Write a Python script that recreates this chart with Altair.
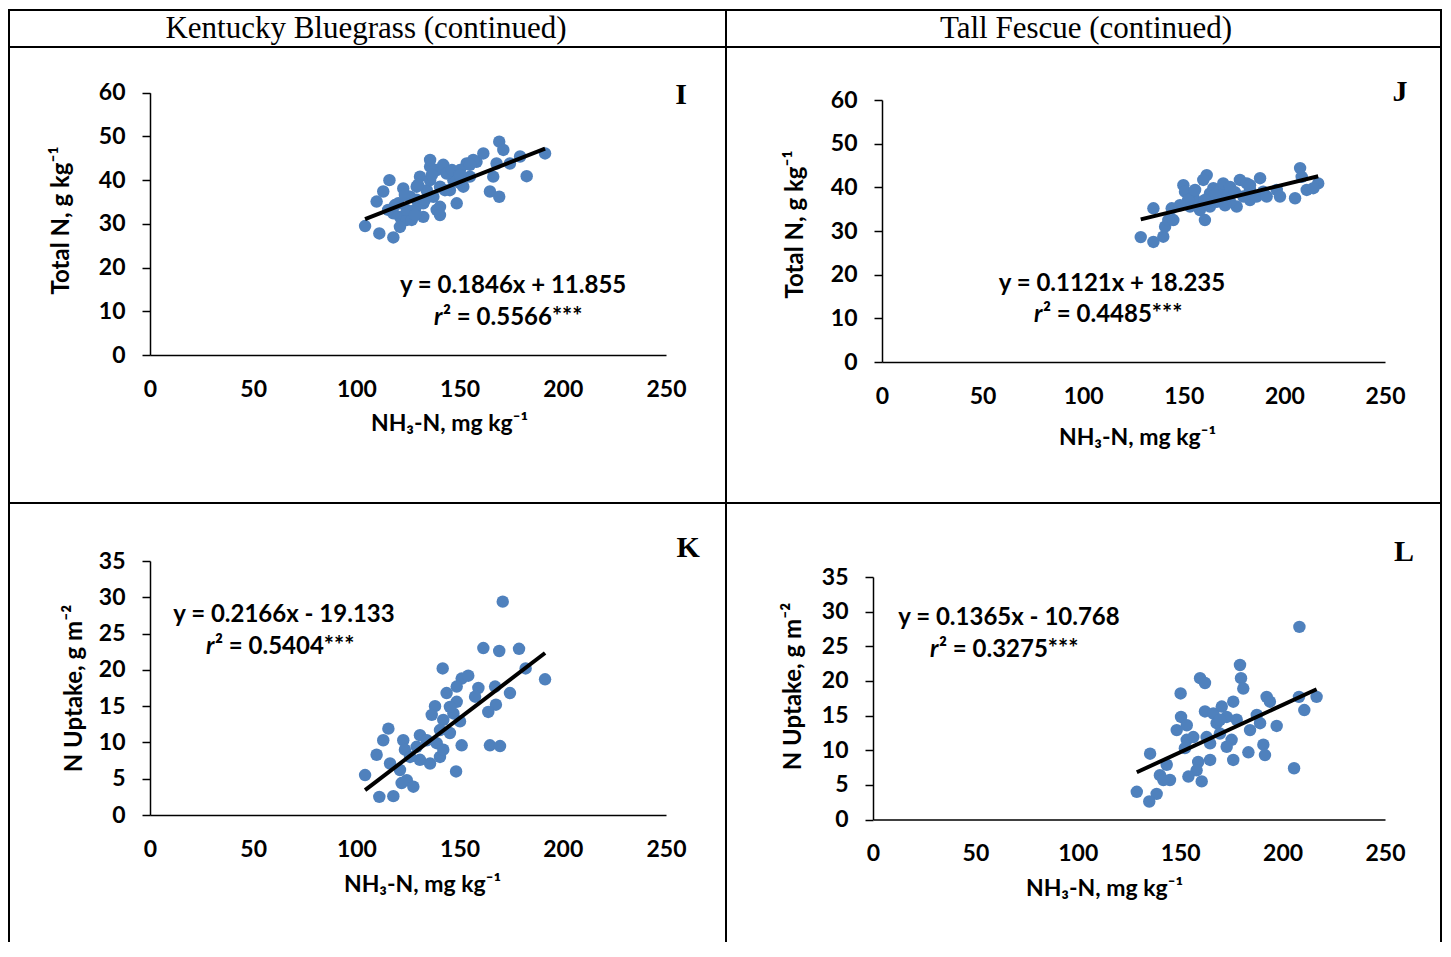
import altair as alt
import pandas as pd

W, H = 1435, 934
SANS = "Lato"
SERIF = "Liberation Serif"
BLUE = "#4F81BD"

# ---------------- data ----------------
# Panel I: Kentucky Bluegrass, Total N vs NH3-N
kb_tn_x = [104.2, 111.1, 117.9, 109.8, 113.0, 116.0, 122.7, 121.1, 124.4, 128.4,
           130.8, 134.1, 138.9, 142.1, 140.5, 148.6, 147.0, 151.8, 153.4, 158.2,
           161.5, 166.3, 164.7, 169.2, 169.2, 171.2, 174.4, 179.3, 182.5, 191.4,
           167.9, 120.3, 124.4, 126.8, 121.1, 129.2, 132.4, 135.7, 137.3, 140.5,
           143.7, 145.3, 150.2, 155.0, 156.6, 135.7, 132.4, 129.2, 138.9, 126.0,
           117.9, 115.4, 150.2, 123.5, 129.8, 133.2, 136.6, 142.9, 146.3, 150.2,
           155.0, 140.5, 128.4, 118.7, 135.7]
kb_tn_y = [29.5, 27.8, 26.9, 35.1, 37.4, 40.0, 38.1, 31.6, 30.9, 33.2,
           40.8, 37.7, 42.3, 43.5, 33.9, 34.7, 40.0, 38.5, 43.8, 44.2,
           46.1, 40.8, 37.4, 36.2, 48.8, 46.9, 43.8, 45.4, 40.9, 46.1,
           43.8, 34.7, 33.2, 30.9, 29.3, 35.5, 34.7, 40.0, 36.2, 38.5,
           41.5, 37.7, 42.3, 40.8, 44.6, 43.1, 31.6, 38.5, 33.2, 36.2,
           32.4, 33.2, 39.3, 36.6, 38.9, 35.5, 41.2, 37.7, 42.3, 41.2,
           43.5, 32.0, 32.0, 34.3, 44.6]

# Panel J: Tall Fescue, Total N vs NH3-N
tf_tn_x = [128.6, 134.9, 139.8, 140.7, 142.3, 144.8, 134.9, 144.0, 149.8, 150.6,
           154.7, 153.1, 161.4, 159.7, 160.5, 158.0, 164.7, 168.0, 171.3, 166.4,
           163.0, 176.3, 177.9, 181.3, 182.9, 187.9, 186.2, 189.5, 196.2, 197.8,
           205.3, 207.8, 208.6, 211.1, 216.8, 173.0, 169.6, 179.6, 163.0, 156.4,
           152.2, 173.0, 191.2, 182.9, 214.4, 155.6, 165.5, 175.4, 182.9, 160.5,
           170.5, 148.1]
tf_tn_y = [28.6, 27.5, 28.7, 31.0, 32.5, 32.5, 35.2, 35.2, 40.5, 39.0,
           37.9, 35.6, 42.8, 41.7, 32.5, 34.8, 39.8, 39.4, 37.9, 36.7,
           35.6, 35.6, 41.7, 40.9, 37.1, 42.1, 37.9, 39.0, 39.4, 37.9,
           37.5, 44.4, 42.4, 39.4, 40.9, 36.7, 40.9, 37.9, 38.6, 36.7,
           37.1, 40.1, 37.9, 39.4, 39.8, 39.4, 38.2, 38.9, 40.5, 37.1,
           35.9, 35.9]

# Panel K: Kentucky Bluegrass, N uptake vs NH3-N
kb_up_x = [170.9, 161.5, 169.2, 178.8, 182.0, 191.4, 141.8, 151.0, 154.2, 148.6,
           143.7, 167.2, 159.1, 157.5, 174.4, 167.6, 163.9, 138.1, 136.5, 148.6,
           147.0, 142.1, 150.2, 140.5, 145.3, 115.5, 113.0, 109.8, 104.2, 111.1,
           117.9, 122.7, 123.5, 116.3, 121.1, 130.8, 129.2, 134.1, 138.9, 135.7,
           140.5, 142.1, 151.0, 148.3, 164.7, 169.6, 124.4, 127.6, 121.9, 130.8,
           126.0, 145.3]
kb_up_y = [29.4, 23.0, 22.6, 22.9, 20.2, 18.7, 20.2, 18.8, 19.2, 17.7,
           16.8, 17.7, 17.5, 16.3, 16.8, 15.2, 14.2, 15.0, 13.8, 15.6,
           14.0, 13.1, 12.9, 11.7, 11.3, 11.9, 10.3, 8.3, 5.5, 2.5,
           2.6, 10.3, 9.0, 7.1, 6.2, 11.0, 9.4, 10.3, 9.9, 7.1,
           8.0, 9.0, 9.6, 6.0, 9.6, 9.5, 4.8, 3.9, 4.4, 7.6,
           8.0, 14.9]

# Panel L: Tall Fescue, N uptake vs NH3-N
tf_up_x = [208.2, 179.2, 179.7, 180.8, 159.7, 162.1, 150.2, 192.2, 193.8, 208.0,
           216.6, 210.6, 150.4, 153.2, 148.3, 162.1, 166.2, 170.3, 175.9, 172.7,
           167.8, 177.6, 187.4, 189.0, 184.1, 197.1, 153.2, 156.4, 162.9, 169.4,
           164.6, 175.1, 172.7, 152.3, 190.6, 191.4, 183.3, 175.9, 164.6, 158.8,
           158.0, 135.3, 143.4, 140.1, 145.0, 141.8, 154.0, 160.5, 128.8, 138.5,
           134.9, 205.6, 169.4]
tf_up_y = [27.8, 22.3, 20.4, 18.9, 20.4, 19.7, 18.2, 17.7, 17.0, 17.7,
           17.7, 15.8, 14.8, 13.6, 12.9, 15.6, 15.3, 16.3, 17.0, 14.8,
           13.9, 14.4, 15.1, 13.9, 12.9, 13.5, 11.5, 11.9, 11.9, 12.4,
           11.0, 11.5, 10.5, 10.3, 10.8, 9.3, 9.7, 8.6, 8.6, 8.3,
           7.1, 9.5, 7.9, 6.4, 5.7, 5.7, 6.2, 5.5, 4.0, 3.7,
           2.6, 7.4, 14.4]

x_ticks = [0, 50, 100, 150, 200, 250]
tn_ticks = [0, 10, 20, 30, 40, 50, 60]
up_ticks = [0, 5, 10, 15, 20, 25, 30, 35]

headers = ["Kentucky Bluegrass (continued)", "Tall Fescue (continued)"]
x_title = "NH\u2083-N, mg kg\u207b\u00b9"
tn_title = "Total N, g kg\u207b\u00b9"
up_title = "N Uptake, g m\u207b\u00b2"

panels = [
    dict(letter="I", xs=kb_tn_x, ys=kb_tn_y, slope=0.1846, icpt=11.855,
         eq="y = 0.1846x + 11.855", r2="\u00b2 = 0.5566***",
         ymax=60, yticks=tn_ticks, ytitle=tn_title,
         eqx=175.9, eqy=15.8, r2x=137.6, r2y=8.5, lx=257.3, ly=59.5,
         x0=142, x1=658, y0=347, y1=84.7, xtx=441, xty=68, ytx=-89, yty=212),
    dict(letter="J", xs=tf_tn_x, ys=tf_tn_y, slope=0.1121, icpt=18.235,
         eq="y = 0.1121x + 18.235", r2="\u00b2 = 0.4485***",
         ymax=60, yticks=tn_ticks, ytitle=tn_title,
         eqx=114.3, eqy=17.9, r2x=75.5, r2y=10.8, lx=257.5, ly=61.8,
         x0=874, x1=1377, y0=354, y1=92, xtx=1129, xty=75, ytx=-87, yty=216),
    dict(letter="K", xs=kb_up_x, ys=kb_up_y, slope=0.2166, icpt=-19.133,
         eq="y = 0.2166x - 19.133", r2="\u00b2 = 0.5404***",
         ymax=35, yticks=up_ticks, ytitle=up_title,
         eqx=64.9, eqy=27.6, r2x=27.1, r2y=23.1, lx=260.7, ly=36.8,
         x0=142, x1=658, y0=807, y1=553, xtx=414, xty=69, ytx=-76, yty=680),
    dict(letter="L", xs=tf_up_x, ys=tf_up_y, slope=0.1365, icpt=-10.768,
         eq="y = 0.1365x - 10.768", r2="\u00b2 = 0.3275***",
         ymax=35, yticks=up_ticks, ytitle=up_title,
         eqx=66.4, eqy=29.1, r2x=27.8, r2y=24.5, lx=259.3, ly=38.6,
         x0=865, x1=1377, y0=811.5, y1=569, xtx=1096, xty=68.5, ytx=-80, yty=678),
]

LABEL_SIZE = 23
TITLE_SIZE = 23
EQ_SIZE = 24


def make_panel(p):
    assert len(p["xs"]) == len(p["ys"])

    def xsc():
        return alt.Scale(domain=[0, 250], range=[p["x0"], p["x1"]], nice=False, zero=False)

    def ysc():
        return alt.Scale(domain=[0, p["ymax"]], range=[p["y0"], p["y1"]], nice=False, zero=False)

    def enc(ch):
        return ch.encode(x=alt.X("x:Q", scale=xsc(), axis=None),
                         y=alt.Y("y:Q", scale=ysc(), axis=None))

    xax = alt.Axis(orient="bottom", offset=p["y0"] - H, values=x_ticks, ticks=False,
                   tickSize=0, grid=False, labelPadding=34, labelBaseline="middle",
                   labelFont=SANS, labelFontSize=LABEL_SIZE, labelFontWeight="bold",
                   labelColor="black", domainColor="black", domainWidth=1.5,
                   labelFlush=False, labelOverlap=False,
                   title=x_title, titleX=p["xtx"], titleY=p["xty"], titleAlign="center",
                   titleBaseline="middle", titleFont=SANS, titleFontSize=TITLE_SIZE,
                   titleFontWeight="bold", titleColor="black")
    yax = alt.Axis(orient="left", offset=-p["x0"], values=p["yticks"], ticks=True,
                   tickSize=8, tickColor="black", tickWidth=1.5, grid=False,
                   labelPadding=17, labelBaseline="middle", labelFont=SANS,
                   labelFontSize=LABEL_SIZE, labelFontWeight="bold", labelColor="black",
                   domainColor="black", domainWidth=1.5, labelFlush=False,
                   labelOverlap=False,
                   title=p["ytitle"], titleX=p["ytx"], titleY=p["yty"], titleAngle=270,
                   titleAlign="center", titleBaseline="middle", titleFont=SANS,
                   titleFontSize=TITLE_SIZE + 1, titleFontWeight="bold", titleColor="black")
    pts_df = pd.DataFrame({"x": p["xs"], "y": p["ys"]})
    xmin, xmax = min(p["xs"]), max(p["xs"])
    line_df = pd.DataFrame({"x": [xmin, xmax],
                            "y": [p["slope"] * xmin + p["icpt"], p["slope"] * xmax + p["icpt"]]})
    eq_df = pd.DataFrame({"x": [p["eqx"]], "y": [p["eqy"]], "t": [p["eq"]]})
    r_df = pd.DataFrame({"x": [p["r2x"]], "y": [p["r2y"]], "t": ["r"]})
    r2_df = pd.DataFrame({"x": [p["r2x"]], "y": [p["r2y"]], "t": [p["r2"]]})
    let_df = pd.DataFrame({"x": [p["lx"]], "y": [p["ly"]], "t": [p["letter"]]})

    pts = alt.Chart(pts_df).mark_circle(size=155, color=BLUE, opacity=1).encode(
        x=alt.X("x:Q", scale=xsc(), axis=xax), y=alt.Y("y:Q", scale=ysc(), axis=yax))
    line = enc(alt.Chart(line_df).mark_line(color="black", strokeWidth=4))
    eq = enc(alt.Chart(eq_df).mark_text(font=SANS, fontSize=EQ_SIZE, fontWeight="bold",
                                        color="black", align="center",
                                        baseline="middle")).encode(text="t:N")
    r = enc(alt.Chart(r_df).mark_text(font=SANS, fontSize=EQ_SIZE, fontWeight="bold",
                                      fontStyle="italic", color="black", align="left",
                                      baseline="middle")).encode(text="t:N")
    r2 = enc(alt.Chart(r2_df).mark_text(font=SANS, fontSize=EQ_SIZE, fontWeight="bold",
                                        color="black", align="left", baseline="middle",
                                        dx=9)).encode(text="t:N")
    let = enc(alt.Chart(let_df).mark_text(font=SERIF, fontSize=30, fontWeight="bold",
                                          color="black", align="center",
                                          baseline="middle")).encode(text="t:N")
    return [pts, line, eq, r, r2, let]


one = pd.DataFrame({"a": [0]})


def rule(x, x2, y, y2):
    return alt.Chart(one).mark_rule(color="black", strokeWidth=2).encode(
        x=alt.value(x), x2=alt.value(x2), y=alt.value(y), y2=alt.value(y2))


def header(x, text):
    return alt.Chart(one).mark_text(font=SERIF, fontSize=31, color="black",
                                    align="center", baseline="middle").encode(
        x=alt.value(x), y=alt.value(21), text=alt.value(text))


decor = [
    rule(0, 1434, 2, 2),
    rule(0, 1434, 39, 39),
    rule(0, 1434, 495, 495),
    rule(1, 1, 2, H),
    rule(718, 718, 2, H),
    rule(1433, 1433, 2, H),
    header(358, headers[0]),
    header(1078, headers[1]),
]

layers = list(decor)
for p in panels:
    layers.extend(make_panel(p))

chart = alt.layer(*layers).resolve_scale(
    x="independent", y="independent"
).resolve_axis(
    x="independent", y="independent"
).properties(
    width=W, height=H, padding=0, autosize=alt.AutoSizeParams(type="none")
).configure_view(stroke=None)

chart.save("out.html", embed_options={"renderer": "svg", "actions": False})
